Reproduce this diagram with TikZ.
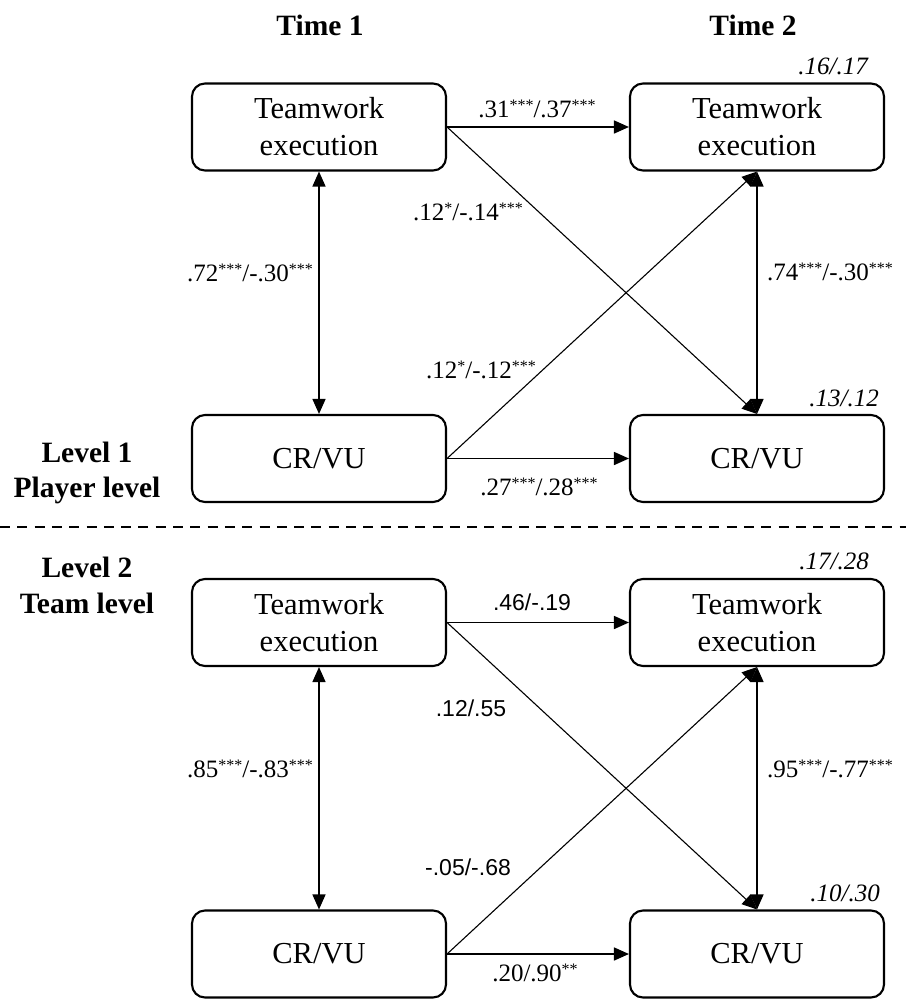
\documentclass[tikz,border=0pt]{standalone}
\usepackage{fontspec}
\setmainfont{Liberation Serif}
\newfontfamily\arialf{Liberation Sans}
\usetikzlibrary{arrows.meta}
\newcommand\sigst[1]{\raisebox{7pt}{\fontsize{16}{16}\selectfont #1}}
\begin{document}
\begin{tikzpicture}[x=1pt,y=-1pt,
  box/.style={draw, line width=2.1pt, rounded corners=13pt, minimum width=254pt, minimum height=87pt, inner sep=0pt, align=center, font=\fontsize{30.5}{37}\selectfont},
  head/.style={font=\fontsize{29.5}{35}\selectfont\bfseries, anchor=base},
  coef/.style={font=\fontsize{25}{30}\selectfont, anchor=base, inner sep=0pt},
  coefs/.style={font=\arialf\fontsize{23}{28}\selectfont, anchor=base, inner sep=0pt},
  rsq/.style={font=\fontsize{25}{30}\selectfont\itshape, anchor=base east, inner sep=0pt},
  path/.style={line width=1.6pt, -{Triangle[length=15pt,width=13pt]}},
  both/.style={line width=1.5pt, {Triangle[length=15pt,width=13pt]}-{Triangle[length=15pt,width=13pt]}},
  diag/.style={line width=1.1pt, -{Triangle[length=15pt,width=13pt]}}
]
\useasboundingbox (0,0) rectangle (906,999);

% headings
\node[head] (t1) at (320,35) {Time 1};
\node[head] (t2) at (753,35) {Time 2};
\node[head] (l1a) at (87,462) {Level 1};
\node[head] (l1b) at (87,497) {Player level};
\node[head] (l2a) at (87,577) {Level 2};
\node[head] (l2b) at (87,613) {Team level};

% level 1 boxes
\node[box] (a1) at (319,127) {Teamwork\\execution};
\node[box] (b1) at (757,127) {Teamwork\\execution};
\node[box] (c1) at (319,458.5) {CR/VU};
\node[box] (d1) at (757,458.5) {CR/VU};

% level 2 boxes
\node[box] (a2) at (319,622.5) {Teamwork\\execution};
\node[box] (b2) at (757,622.5) {Teamwork\\execution};
\node[box] (c2) at (319,954) {CR/VU};
\node[box] (d2) at (757,954) {CR/VU};

% divider
\coordinate (dl) at (0,527);
\coordinate (dr) at (906,527);
\draw[line width=2.5pt, dash pattern=on 10pt off 7.3pt] (dl) -- (dr);

% level 1 connectors
\draw[path] (a1.east) -- (b1.west);
\draw[path] (c1.east) -- (d1.west);
\draw[both] (a1.south) -- (c1.north);
\draw[both] (b1.south) -- (d1.north);
\draw[diag] (a1.east) -- (d1.north);
\draw[diag] (c1.east) -- (b1.south);

% level 2 connectors
\draw[path] (a2.east) -- (b2.west);
\draw[path] (c2.east) -- (d2.west);
\draw[both] (a2.south) -- (c2.north);
\draw[both] (b2.south) -- (d2.north);
\draw[diag] (a2.east) -- (d2.north);
\draw[diag] (c2.east) -- (b2.south);

% level 1 labels
\node[coef] (k1) at (537,117) {.31\sigst{***}/.37\sigst{***}};
\node[coef] (k2) at (468,220) {.12\sigst{*}/-.14\sigst{***}};
\node[coef] (k3) at (250,281) {.72\sigst{***}/-.30\sigst{***}};
\node[coef] (k4) at (830,280) {.74\sigst{***}/-.30\sigst{***}};
\node[coef] (k5) at (481,378) {.12\sigst{*}/-.12\sigst{***}};
\node[coef] (k6) at (539,495) {.27\sigst{***}/.28\sigst{***}};
\node[rsq] (r1) at (868,74) {.16/.17};
\node[rsq] (r2) at (879,406) {.13/.12};

% level 2 labels
\node[coefs] (m1) at (532,610) {.46/-.19};
\node[coefs] (m2) at (471,716) {.12/.55};
\node[coef] (m3) at (250,777) {.85\sigst{***}/-.83\sigst{***}};
\node[coef] (m4) at (830,777) {.95\sigst{***}/-.77\sigst{***}};
\node[coefs] (m5) at (468,875) {-.05/-.68};
\node[coef] (m6) at (535,981) {.20/.90\sigst{**}};
\node[rsq] (r3) at (869,569) {.17/.28};
\node[rsq] (r4) at (880,901) {.10/.30};
\end{tikzpicture}
\end{document}
